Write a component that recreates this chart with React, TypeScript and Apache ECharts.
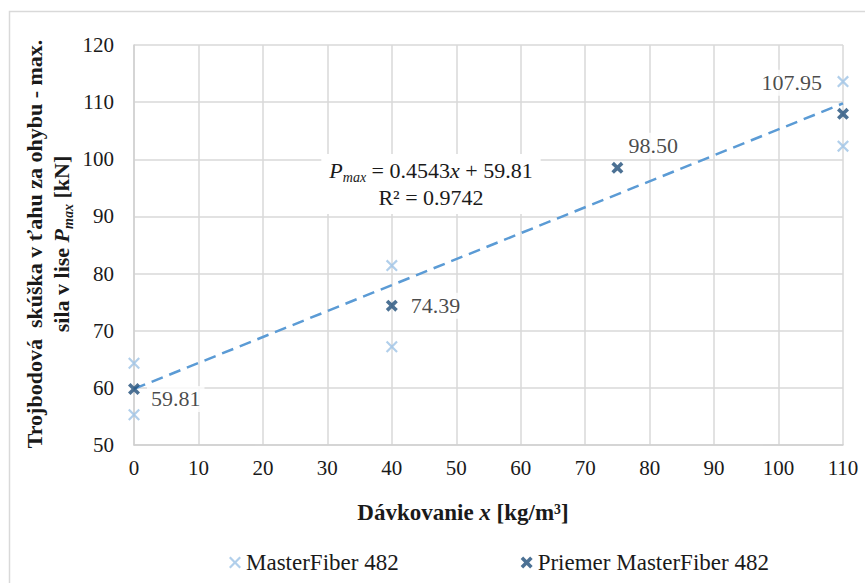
import React, { useEffect, useRef } from "react";
import * as echarts from "echarts";

// Dosage [kg/m3] and measured max. forces [kN]
const sampleX = [0, 0, 40, 40, 110, 110];
const sampleY = [64.3, 55.3, 81.4, 67.2, 113.6, 102.3];

const meanX = [0, 40, 75, 110];
const meanY = [59.81, 74.39, 98.5, 107.95];

// Linear trend P = a*x + b
const trendSlope = 0.4543;
const trendIntercept = 59.81;
const trendX = [0, 110];

const xTicks = { min: 0, max: 110, step: 10 };
const yTicks = { min: 50, max: 120, step: 10 };

const seriesNames = ["MasterFiber 482", "Priemer MasterFiber 482"];

const SERIF = "Liberation Serif";
const LIGHT = "#9dc3e6";
const DARK = "#1f4e79";
const TREND = "#5b9bd5";
const INK = "#1a1a1a";

// "x" shaped marker as a filled polygon in a 10x10 box
const crossPath = (d: number) =>
  "path://" +
  `M0,${d}L${d},0L5,${5 - d}L${10 - d},0L10,${d}L${5 + d},5L10,${10 - d}L${10 - d},10L5,${5 + d}L${d},10L0,${10 - d}L${5 - d},5Z`;

// label placement for each averaged point
const meanLabelPlacement: { position: string; distance: number; offset: [number, number] }[] = [
  { position: "right", distance: 7, offset: [0, 10] },
  { position: "right", distance: 9, offset: [0, 0] },
  { position: "right", distance: 1, offset: [0, -22] },
  { position: "left", distance: 11, offset: [0, -31] },
];

export default function App() {
  const ref = useRef<HTMLDivElement>(null);

  useEffect(() => {
    if (!ref.current) return;
    const chart = echarts.init(ref.current, null, { renderer: "svg" });

    const samples = sampleX.map((x, i) => [x, sampleY[i]]);
    const means = meanX.map((x, i) => ({
      value: [x, meanY[i]],
      label: meanLabelPlacement[i],
    }));
    const trend = trendX.map((x) => [x, +(trendSlope * x + trendIntercept).toFixed(4)]);

    const subStyle = { fontFamily: SERIF, fontSize: 14, fontStyle: "italic", verticalAlign: "bottom", lineHeight: 17 };

    chart.setOption({
      animation: false,
      backgroundColor: "#ffffff",
      textStyle: { fontFamily: SERIF },
      grid: { left: 134, right: 22, top: 45, bottom: 138, containLabel: false },
      xAxis: {
        type: "value",
        min: xTicks.min,
        max: xTicks.max,
        interval: xTicks.step,
        axisLine: { show: true, lineStyle: { color: "#d0d0d0", width: 1.5 } },
        axisTick: { show: false },
        splitLine: { show: true, lineStyle: { color: "#d9d9d9", width: 1.5 } },
        axisLabel: { fontFamily: SERIF, fontSize: 21, color: INK, margin: 12 },
      },
      yAxis: {
        type: "value",
        min: yTicks.min,
        max: yTicks.max,
        interval: yTicks.step,
        axisLine: { show: true, lineStyle: { color: "#d0d0d0", width: 1.5 } },
        axisTick: { show: false },
        splitLine: { show: true, lineStyle: { color: "#d9d9d9", width: 1.5 } },
        axisLabel: { fontFamily: SERIF, fontSize: 21, color: INK, margin: 20 },
      },
      legend: {
        data: seriesNames,
        left: 224,
        top: 546,
        itemWidth: 12,
        itemHeight: 12,
        itemGap: 122,
        textStyle: { fontFamily: SERIF, fontSize: 23, color: INK },
      },
      graphic: [
        {
          type: "rect",
          shape: { x: 9.5, y: 11.5, width: 900, height: 620 },
          style: { fill: "none", stroke: "#d9d9d9", lineWidth: 1.5 },
          silent: true,
          z: -1,
        },
        {
          // x axis title
          type: "text",
          x: 463,
          y: 512,
          style: {
            text: "{b|Dávkovanie }{bi|x}{b| [kg/m³]}",
            align: "center",
            verticalAlign: "middle",
            fill: INK,
            fontFamily: SERIF,
            rich: {
              b: { fontFamily: SERIF, fontSize: 23, fontWeight: "bold" },
              bi: { fontFamily: SERIF, fontSize: 23, fontWeight: "bold", fontStyle: "italic" },
            },
          },
        },
        {
          // y axis title
          type: "text",
          x: 48,
          y: 244,
          rotation: Math.PI / 2,
          style: {
            text: "{b|Trojbodová  skúška v ťahu za ohybu - max.}\n{b|sila v lise }{bi|P}{sub|max}{b| [kN]}",
            align: "center",
            verticalAlign: "middle",
            fill: INK,
            fontFamily: SERIF,
            rich: {
              b: { fontFamily: SERIF, fontSize: 22, fontWeight: "bold", lineHeight: 27 },
              bi: { fontFamily: SERIF, fontSize: 22, fontWeight: "bold", fontStyle: "italic", lineHeight: 27 },
              sub: { ...subStyle, fontWeight: "bold" },
            },
          },
        },
        {
          // regression equation
          type: "text",
          x: 431,
          y: 184,
          z: 10,
          style: {
            text: "{i|P}{sub|max}{n| = 0.4543}{i|x}{n| + 59.81}\n{n|R² = 0.9742}",
            align: "center",
            verticalAlign: "middle",
            fill: INK,
            fontFamily: SERIF,
            backgroundColor: "#ffffff",
            padding: [3, 8],
            rich: {
              n: { fontFamily: SERIF, fontSize: 22, lineHeight: 27 },
              i: { fontFamily: SERIF, fontSize: 22, fontStyle: "italic", lineHeight: 27 },
              sub: subStyle,
            },
          },
        },
      ],
      series: [
        {
          name: "Trend",
          type: "line",
          data: trend,
          symbol: "none",
          silent: true,
          lineStyle: { color: TREND, width: 2.5, type: [12, 7] },
          z: 1,
        },
        {
          name: seriesNames[0],
          type: "scatter",
          data: samples,
          symbol: crossPath(1.3),
          symbolSize: 12,
          itemStyle: { color: LIGHT },
          z: 3,
        },
        {
          name: seriesNames[1],
          type: "scatter",
          data: means,
          symbol: crossPath(2.1),
          symbolSize: 12,
          itemStyle: { color: DARK },
          z: 4,
          label: {
            show: true,
            fontFamily: SERIF,
            fontSize: 22,
            color: INK,
            backgroundColor: "#ffffff",
            padding: [2, 4],
            formatter: (p: any) => Number(p.value[1]).toFixed(2),
          },
        },
      ],
    });

    return () => chart.dispose();
  }, []);

  return (
    <div
      ref={ref}
      style={{ position: "fixed", left: 0, top: 0, width: 865, height: 583, background: "#fff" }}
    />
  );
}
